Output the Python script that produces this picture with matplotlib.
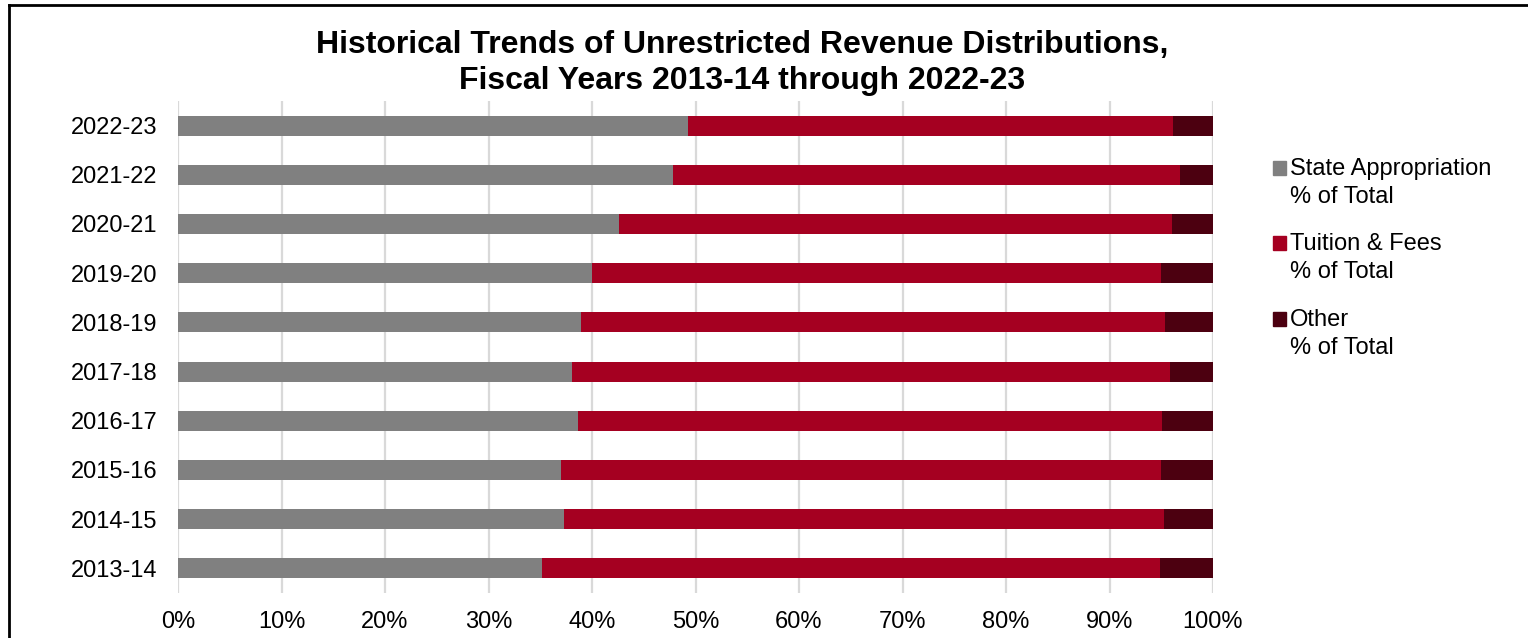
import matplotlib.pyplot as plt
from matplotlib.patches import Rectangle
from matplotlib.lines import Line2D

plt.rcParams['font.family'] = ['Liberation Sans', 'DejaVu Sans']

# fiscal years, bottom to top
years = ['2013-14', '2014-15', '2015-16', '2016-17', '2017-18',
         '2018-19', '2019-20', '2020-21', '2021-22', '2022-23']

# shares of unrestricted revenue, % of total
state_pct = [35.2, 37.3, 37.0, 38.6, 38.1, 38.9, 40.0, 42.6, 47.8, 49.3]
tuition_pct = [59.7, 58.0, 58.0, 56.5, 57.7, 56.5, 55.0, 53.4, 49.0, 46.8]
other_pct = [5.1, 4.7, 5.0, 4.9, 4.2, 4.6, 5.0, 4.0, 3.2, 3.9]

series_names = ['State Appropriation\n% of Total', 'Tuition & Fees\n% of Total', 'Other\n% of Total']
colors = ['#808080', '#A50021', '#4C0010']

fig = plt.figure(figsize=(15.28, 6.38), dpi=100)
ax = fig.add_axes([178 / 1528, 1 - 593 / 638, (1213 - 178) / 1528, 492 / 638])

left = [0] * len(years)
for vals, col in zip([state_pct, tuition_pct, other_pct], colors):
    ax.barh(years, vals, left=left, height=0.41, color=col, zorder=3)
    left = [a + b for a, b in zip(left, vals)]

ax.set_xlim(0, 100)
ax.set_ylim(-0.5, len(years) - 0.5)
ax.set_xticks(range(0, 101, 10))
ax.set_xticklabels([f'{t}%' for t in range(0, 101, 10)])
ax.tick_params(axis='both', length=0, labelsize=17)
ax.tick_params(axis='x', pad=13)
ax.tick_params(axis='y', pad=15)
ax.grid(axis='x', color='#D9D9D9', linewidth=1.6, zorder=0)
for s in ax.spines.values():
    s.set_visible(False)

fig.text(742 / 1528, 1 - 63 / 638, 'Historical Trends of Unrestricted Revenue Distributions,\nFiscal Years 2013-14 through 2022-23',
         ha='center', va='center', fontsize=23, fontweight='bold', linespacing=1.25)

# legend: square next to first line of each label
legend_y = [168, 243, 319]
for name, col, y in zip(series_names, colors, legend_y):
    fig.patches.append(Rectangle((1273 / 1528, 1 - (y + 6.5) / 638), 13 / 1528, 13 / 638,
                                 transform=fig.transFigure, color=col, figure=fig))
    fig.text(1290 / 1528, 1 - (y - 10) / 638, name, ha='left', va='top', fontsize=17, linespacing=1.38)

# chart frame
fig.add_artist(Line2D([8.5 / 1528, 8.5 / 1528], [0, 1 - 5 / 638], color='black', linewidth=2, transform=fig.transFigure))
fig.add_artist(Line2D([8.5 / 1528, 1], [1 - 5 / 638, 1 - 5 / 638], color='black', linewidth=2, transform=fig.transFigure))

fig.savefig('out.png', dpi=100)
